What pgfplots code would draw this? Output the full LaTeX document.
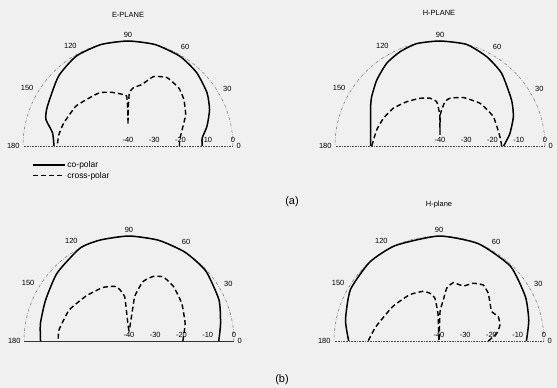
\documentclass[border=0pt]{standalone}
\usepackage{pgfplots}
\pgfplotsset{compat=1.18}
\usepackage{pgfplotstable}
\usepgfplotslibrary{polar}
\usepackage{fontspec}
\setmainfont{Liberation Sans}

% ---------- data: angle (deg), level (dB) ----------
\pgfplotstableread{
a d
0 -11.7
6 -11.6
14 -9.0
24 -6.0
34 -3.7
47 -1.7
60 -0.5
75 0
90 0
105 0
120 -0.5
135 -2.5
154 -5.8
162 -7.1
170 -10.8
180 -11.8
}\aLco
\pgfplotstableread{
a d
0 -20.4
6.7 -20.2
16.6 -18.5
28.5 -15.0
39.8 -12.3
48.9 -10.6
60.3 -10.0
69.8 -11.8
77.3 -16.0
84.7 -17.7
88.5 -19.7
89.7 -26
90 -31.9
90.3 -26
91.5 -21
95.3 -20.3
107 -18.6
117.9 -17.0
128.8 -16.5
142.7 -15.0
160.3 -14.0
170.9 -13.3
180 -13.0
}\aLcx
\pgfplotstableread{
a d
0 -15.8
2.3 -15.2
10.3 -12.9
21.8 -9.9
32.7 -7.6
49.7 -3.7
62.4 -1.6
75.4 0
90 0
102.8 0
113 -1.0
122.8 -2.5
133.8 -5.2
144.2 -7.9
150.4 -9.6
161.9 -12.2
180 -13.6
}\aRco
\pgfplotstableread{
a d
0 -16.5
8.8 -16.9
28.8 -16.8
46.8 -17.7
64.2 -19.5
78.2 -21.4
83.6 -23.0
89.5 -28
90 -35.8
90.5 -28
94.3 -23.1
101.8 -21.4
112.7 -20.3
126.9 -18.9
141.1 -17.1
154 -16.0
165.8 -15.1
180 -14.0
}\aRcx
\pgfplotstableread{
a d
0 -5.8
10.8 -4.5
24.6 -2.3
42.4 -0.4
57.7 0
73.6 0
90 0
105.8 0
117.7 0
136.5 -2.3
153.8 -4.6
168.8 -5.6
180 -6.3
}\bLco
\pgfplotstableread{
a d
0 -19.5
17.3 -17.6
35.5 -15.3
50.8 -13.2
61.8 -12.3
69.4 -13.7
76.7 -16.7
82.7 -23
90 -36
95.6 -23
103.2 -18.7
116 -17.3
133.7 -16.3
152.7 -14.3
171 -13.0
180 -13.0
}\bLcx
\pgfplotstableread{
a d
0 -6.7
13 -4.9
27.2 -3.0
46.3 -0.6
68 0
90 0
114.6 0
131.4 0
150 -1.0
167.4 -3.5
180 -5.6
}\bRco
\pgfplotstableread{
a d
0 -21.2
7.6 -17.8
14.7 -16.0
22.3 -15.6
29.1 -17.0
36.5 -15.8
44 -13.9
51.6 -12.8
59.3 -14.4
66.2 -17.1
76.2 -17.1
81.7 -19.7
84 -24.3
88 -28.8
90 -40
92 -30
95.4 -23.7
100.7 -21.5
108 -20.1
122.7 -19.1
143.5 -18.0
167.4 -15.3
180 -13.0
}\bRcx

\pgfplotsset{
  pat/.style={
    scale only axis, width=210bp, height=210bp,
    anchor=south,
    xmin=0, xmax=180, ymin=0, ymax=40,
    xtick={0,30,...,180},
    ytick={0,10,20,30,40},
    yticklabels={-40,-30,-20,-10,0},
    grid=none,
    major tick length=0pt,
    /pgf/number format/assume math mode=true,
    tick label style={font=\fontsize{7.5}{8}\selectfont},
    x axis line style={black!55, line width=0.5bp, dash pattern=on 3bp off 1.5bp on 0.6bp off 1.5bp},
    y axis line style={black!70, line width=0.6bp, densely dotted},
    clip=false,
  },
  co/.style={black, line width=1.5bp, smooth, tension=0.35},
  cx/.style={black, line width=1.4bp, dash pattern=on 5bp off 3bp, smooth, tension=0.25},
}

\begin{document}
\begin{tikzpicture}
\useasboundingbox (0bp,0bp) rectangle (557bp,388bp);
\fill[black!6] (0bp,0bp) rectangle (557bp,388bp);

\begin{polaraxis}[pat, at={(128bp,242bp)},
  legend style={at={(0.03,-0.11)}, anchor=north west, draw=none, fill=none,
    font=\fontsize{8.5}{9}\selectfont, row sep=0bp, nodes={inner sep=1.5bp}},
  legend cell align=left,
  legend image code/.code={\draw[#1] (0bp,0bp) -- (32bp,0bp);}]
\addplot[co] table[x=a, y expr=\thisrow{d}+40] {\aLco};
\addlegendentry{co-polar}
\addplot[cx] table[x=a, y expr=\thisrow{d}+40] {\aLcx};
\addlegendentry{cross-polar}
\end{polaraxis}

\begin{polaraxis}[pat, at={(440bp,242bp)}]
\addplot[co] table[x=a, y expr=\thisrow{d}+40] {\aRco};
\addplot[cx] table[x=a, y expr=\thisrow{d}+40] {\aRcx};
\end{polaraxis}

\begin{polaraxis}[pat, at={(129bp,47bp)}, y axis line style={black!80, line width=0.7bp, solid}]
\addplot[co] table[x=a, y expr=\thisrow{d}+40] {\bLco};
\addplot[cx] table[x=a, y expr=\thisrow{d}+40] {\bLcx};
\end{polaraxis}

\begin{polaraxis}[pat, at={(439bp,47bp)}]
\addplot[co] table[x=a, y expr=\thisrow{d}+40] {\bRco};
\addplot[cx] table[x=a, y expr=\thisrow{d}+40] {\bRcx};
\end{polaraxis}

\node[font=\fontsize{7.5}{8}\selectfont] at (128bp,373bp) {E-PLANE};
\node[font=\fontsize{7.5}{8}\selectfont] at (439bp,375bp) {H-PLANE};
\node[font=\fontsize{7.5}{8}\selectfont] at (439bp,183bp) {H-plane};
\node[font=\fontsize{11}{12}\selectfont] at (292bp,186bp) {(a)};
\node[font=\fontsize{11}{12}\selectfont] at (282bp,8bp) {(b)};
\end{tikzpicture}
\end{document}
